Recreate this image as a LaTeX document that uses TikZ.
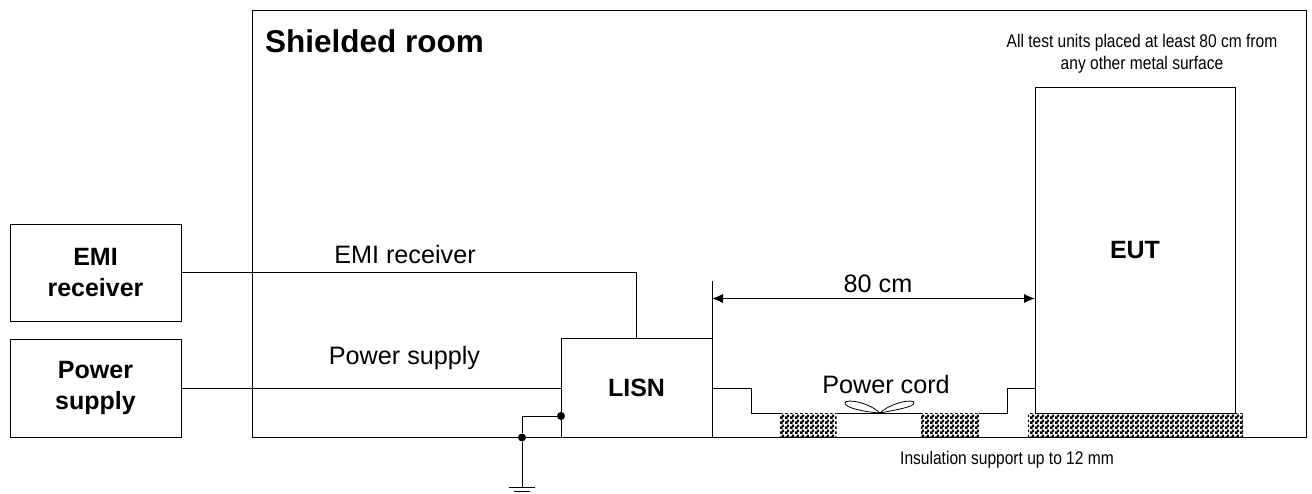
\documentclass[tikz,border=0pt]{standalone}
\usepackage{fontspec}
\setmainfont{Liberation Sans}
\newfontfamily\narrowfont[FakeStretch=0.85]{Liberation Sans}
\usetikzlibrary{arrows.meta,patterns}
\pgfdeclarepatternformonly{finecheck}{\pgfpointorigin}{\pgfqpoint{5pt}{5pt}}{\pgfqpoint{5pt}{5pt}}{%
  \pgfpathrectangle{\pgfpointorigin}{\pgfqpoint{3pt}{3pt}}%
  \pgfpathrectangle{\pgfqpoint{2.3pt}{2.3pt}}{\pgfqpoint{2.7pt}{2.7pt}}%
  \pgfusepath{fill}}

\begin{document}
\begin{tikzpicture}[
          x=1pt, y=-1pt,
          line width=0.8pt,
          box/.style={rectangle, draw, align=center, inner sep=0pt, outer sep=0pt,
                      font=\fontsize{25}{31}\selectfont\bfseries},
          lbl/.style={inner sep=0pt, font=\fontsize{25.2}{30}\selectfont},
          note/.style={inner sep=0pt, align=center, font=\fontsize{18.3}{22}\selectfont\narrowfont},
          support/.style={rectangle, pattern=finecheck, inner sep=0pt, outer sep=0pt},
          dot/.style={circle, fill, inner sep=0pt, minimum size=8pt},
          >={Latex[length=11pt,width=9pt]}
        ]
        \useasboundingbox (0,0) rectangle (1312,493);
        \node[box, minimum width=1053.5pt, minimum height=427pt] (room) at (779.25,224) {};
        \node[box, minimum width=171pt, minimum height=97pt] (emirx) at (95.5,272.5) {EMI\\receiver};
        \node[box, minimum width=171pt, minimum height=98pt] (psu) at (95.5,388) {Power\\supply};
        \node[box, fill=white, minimum width=151pt, minimum height=99pt] (lisn) at (636.5,388) {LISN};
        \node[box, minimum width=200pt, minimum height=326pt] (eut) at (1135,250) {EUT};
        \node[support, minimum width=57pt, minimum height=24pt] (supa) at (808,425) {};
        \node[support, minimum width=58pt, minimum height=24pt] (supb) at (950,425) {};
        \node[support, minimum width=215pt, minimum height=24pt] (supc) at (1135.5,425) {};
        % labels
        \node[inner sep=0pt, font=\fontsize{31.5}{34}\selectfont\bfseries] (roomlbl) at (374.5,41) {Shielded room};
        \node[lbl] (emilbl) at (405,254) {EMI receiver};
        \node[lbl] (psulbl) at (404.5,358) {Power supply};
        \node[lbl] (dimlbl) at (878,284) {80 cm};
        \node[lbl] (cordlbl) at (886,384) {Power cord};
        \node[note] (toplbl) at (1142,53.5) {All test units placed at least 80 cm from\\any other metal surface};
        \node[note] (inslbl) at (1007,459.5) {Insulation support up to 12 mm};
        % wiring
        \draw (emirx.east) -| (lisn.north);
        \draw (psu.east) -- (lisn.west);
        \coordinate (dimtop) at (712,281);
        \coordinate (dimmid) at (712,298.5);
        \draw (dimtop) -- (lisn.north east);
        \draw[<->] (dimmid) -- (dimmid -| eut.west);
        \draw (lisn.east) -- ++(39,0) |- (supa.north west);
        \draw (supa.north east) -- (supb.north west);
        \draw (supb.north east) -- ++(28,0) |- (1035,388);
        % twisted cord
        \coordinate (twist) at (880,413);
        \draw (twist) .. controls (870,403) and (846,398) .. (845,403) .. controls (845,408) and (865,412) .. (twist);
        \draw (twist) .. controls (890,403) and (914,398) .. (914,403) .. controls (914,407) and (895,410) .. (twist);
        % ground
        \node[dot] (gnda) at (561,416) {};
        \node[dot] (gndb) at (522,437.5) {};
        \coordinate (earth) at (522,487);
        \draw (gnda) -| (gndb);
        \draw (gndb) -- (earth);
        \draw (earth) ++(-13,0) -- ++(26,0);
        \draw (earth) ++(-8,4.5) -- ++(16,0);
      \end{tikzpicture}
\end{document}
